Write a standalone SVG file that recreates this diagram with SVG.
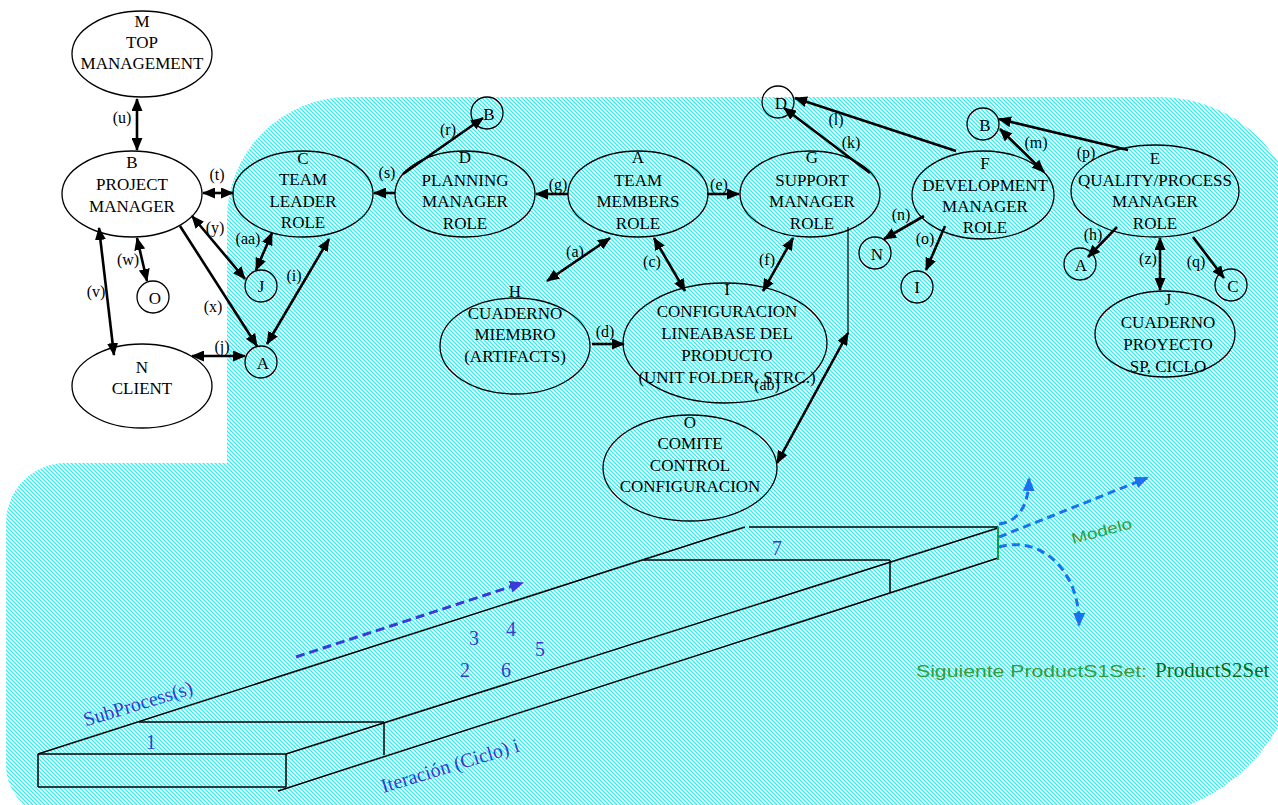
<svg xmlns="http://www.w3.org/2000/svg" width="1278" height="805" viewBox="0 0 1278 805">
  <defs>
    <pattern id="hatch" width="4" height="4" patternUnits="userSpaceOnUse">
      <rect width="4" height="4" fill="#ffffff"/>
      <path d="M0,0 L4,4 M-1,3 L1,5 M3,-1 L5,1" stroke="#2af0f0" stroke-width="1.3"/>
    </pattern>
    <marker id="ah" markerUnits="userSpaceOnUse" markerWidth="13" markerHeight="11" refX="12" refY="5.5" orient="auto-start-reverse">
      <path d="M0,0 L13,5.5 L0,11 z" fill="#000"/>
    </marker>
    <marker id="ahb" markerUnits="userSpaceOnUse" markerWidth="14" markerHeight="12" refX="12" refY="6" orient="auto">
      <path d="M0,0 L14,6 L0,12 z" fill="#3a3ad8"/>
    </marker>
    <marker id="ahl" markerUnits="userSpaceOnUse" markerWidth="14" markerHeight="12" refX="12" refY="6" orient="auto">
      <path d="M0,0 L14,6 L0,12 z" fill="#1a70ee"/>
    </marker>
  </defs>
  <style>
    .n ellipse, .n circle { fill: none; stroke: #000; stroke-width: 1.3; }
    .n text { text-anchor: middle; }
    .c line, .c path { stroke: #000; stroke-width: 2.6; fill: none; }
    .c .thin { stroke-width: 1.2; }
    .lbl text { text-anchor: middle; }
    .slab line { stroke: #000; stroke-width: 1.5; }
    .num { font-family: 'Liberation Serif', serif; font-size: 20px; fill: #3a3acc; text-anchor: middle; }
    .hand { font-family: 'Liberation Sans', sans-serif; fill: #3a9a3a; }
  </style>

  <rect width="1278" height="805" fill="#ffffff"/>
  <!-- hatched working area -->
  <path d="M6,523 A60,60 0 0 1 66,463 L227,463 L227,219 A122,122 0 0 1 349,97 L1160,97 A140,140 0 0 1 1300,237 L1300,642 A175,175 0 0 1 1125,817 L58,817 A52,52 0 0 1 6,765 Z" fill="url(#hatch)"/>

  <!-- iteration slab -->
  <g id="slab" class="slab">
    <line x1="38" y1="754" x2="286" y2="754"/>
    <line x1="38" y1="787" x2="286" y2="787"/>
    <line x1="38" y1="754" x2="38" y2="787"/>
    <line x1="286" y1="754" x2="286" y2="787"/>
    <line x1="139" y1="722" x2="384" y2="722"/>
    <line x1="384" y1="722" x2="384" y2="755"/>
    <line x1="38" y1="754" x2="745" y2="527"/>
    <line x1="286" y1="754" x2="998" y2="528"/>
    <line x1="278" y1="791" x2="998" y2="558"/>
    <line x1="749" y1="527" x2="998" y2="527"/>
    <line x1="643" y1="560" x2="890" y2="560"/>
    <line x1="890" y1="560" x2="890" y2="593"/>
    <line x1="998" y1="527" x2="998" y2="560" style="stroke:#10a040;stroke-width:2"/>
  </g>
  <text class="num" x="151" y="749">1</text>
  <text class="num" x="465" y="677">2</text>
  <text class="num" x="474" y="645">3</text>
  <text class="num" x="511" y="636">4</text>
  <text class="num" x="540" y="656">5</text>
  <text class="num" x="506" y="677">6</text>
  <text class="num" x="777" y="555">7</text>
  <text class="num" transform="translate(140,710) rotate(-17)" x="0" y="0">SubProcess(s)</text>
  <text class="num" transform="translate(452,772) rotate(-17)" x="0" y="0">Iteración (Ciclo) i</text>

  <!-- flow arrows -->
  <g id="flow" fill="none" stroke-width="3">
    <line x1="296" y1="657" x2="522" y2="583" stroke="#3a3ad8" stroke-dasharray="9,5" marker-end="url(#ahb)"/>
    <path d="M999,524 Q1028,520 1029,479" stroke="#1a70ee" stroke-dasharray="8,5" marker-end="url(#ahl)"/>
    <line x1="999" y1="537" x2="1147" y2="478" stroke="#1a70ee" stroke-dasharray="8,5" marker-end="url(#ahl)"/>
    <path d="M999,547 C1040,535 1080,570 1079,625" stroke="#1a70ee" stroke-dasharray="8,5" marker-end="url(#ahl)"/>
  </g>
  <text class="hand" font-size="15" transform="translate(1103,536) rotate(-15)" text-anchor="middle" textLength="62" lengthAdjust="spacingAndGlyphs">Modelo</text>
  <text class="hand" font-size="16" x="916" y="677" textLength="231" lengthAdjust="spacingAndGlyphs">Siguiente ProductS1Set:</text>
  <text x="1155" y="677" font-family="'Liberation Serif', serif" font-size="21" fill="#0a6a1a">ProductS2Set</text>

  <!-- connectors -->
  <g id="connectors" class="c">
    <line x1="137" y1="99" x2="137" y2="150" marker-start="url(#ah)" marker-end="url(#ah)"/>
    <line x1="203" y1="193" x2="233" y2="193" marker-start="url(#ah)" marker-end="url(#ah)"/>
    <line x1="395" y1="193" x2="374" y2="193" marker-end="url(#ah)"/>
    <line x1="403" y1="174" x2="483" y2="118" marker-end="url(#ah)"/>
    <line x1="192" y1="216" x2="245" y2="279" marker-start="url(#ah)" marker-end="url(#ah)"/>
    <line x1="272" y1="233" x2="256" y2="270" marker-start="url(#ah)" marker-end="url(#ah)"/>
    <line x1="137" y1="238" x2="147" y2="281" marker-start="url(#ah)" marker-end="url(#ah)"/>
    <line x1="99" y1="228" x2="114" y2="355" marker-start="url(#ah)" marker-end="url(#ah)"/>
    <line x1="180" y1="226" x2="257" y2="346" marker-end="url(#ah)"/>
    <line x1="267" y1="344" x2="329" y2="239" marker-start="url(#ah)" marker-end="url(#ah)"/>
    <line x1="192" y1="356" x2="245" y2="356" marker-start="url(#ah)" marker-end="url(#ah)"/>
    <line x1="568" y1="194" x2="536" y2="194" marker-end="url(#ah)"/>
    <line x1="707" y1="194" x2="739" y2="194" marker-end="url(#ah)"/>
    <line x1="610" y1="238" x2="547" y2="281" marker-start="url(#ah)" marker-end="url(#ah)"/>
    <line x1="654" y1="238" x2="685" y2="291" marker-start="url(#ah)" marker-end="url(#ah)"/>
    <line x1="793" y1="238" x2="763" y2="291" marker-start="url(#ah)" marker-end="url(#ah)"/>
    <line x1="592" y1="344" x2="624" y2="344" marker-end="url(#ah)"/>
    <line class="thin" x1="848" y1="227" x2="848" y2="334"/>
    <line x1="848" y1="333" x2="777" y2="463" marker-start="url(#ah)" marker-end="url(#ah)"/>
    <line x1="870" y1="173" x2="784" y2="108" marker-end="url(#ah)"/>
    <line x1="956" y1="151" x2="795" y2="98" marker-end="url(#ah)"/>
    <line x1="1000" y1="129" x2="1044" y2="172" marker-start="url(#ah)" marker-end="url(#ah)"/>
    <line x1="1128" y1="150" x2="999" y2="119" marker-end="url(#ah)"/>
    <line x1="924" y1="216" x2="884" y2="239" marker-end="url(#ah)"/>
    <line x1="945" y1="226" x2="926" y2="270" marker-end="url(#ah)"/>
    <line x1="1117" y1="227" x2="1088" y2="257" marker-end="url(#ah)"/>
    <line x1="1160" y1="238" x2="1160" y2="290" marker-start="url(#ah)" marker-end="url(#ah)"/>
    <line x1="1193" y1="237" x2="1224" y2="278" marker-end="url(#ah)"/>
  </g>

  <!-- connector labels -->
  <g id="labels" class="lbl" font-family="'Liberation Serif', serif" font-size="16" fill="#000">
    <text x="122" y="123">(u)</text>
    <text x="217" y="180">(t)</text>
    <text x="387" y="178">(s)</text>
    <text x="448" y="135">(r)</text>
    <text x="215" y="233">(y)</text>
    <text x="248" y="244">(aa)</text>
    <text x="128" y="265">(w)</text>
    <text x="96" y="297">(v)</text>
    <text x="213" y="312">(x)</text>
    <text x="294" y="281">(i)</text>
    <text x="222" y="352">(j)</text>
    <text x="558" y="190">(g)</text>
    <text x="719" y="190">(e)</text>
    <text x="575" y="257">(a)</text>
    <text x="652" y="267">(c)</text>
    <text x="767" y="265">(f)</text>
    <text x="605" y="337">(d)</text>
    <text x="767" y="390">(ab)</text>
    <text x="851" y="148">(k)</text>
    <text x="836" y="125">(l)</text>
    <text x="1036" y="148">(m)</text>
    <text x="1086" y="158">(p)</text>
    <text x="901" y="220">(n)</text>
    <text x="925" y="244">(o)</text>
    <text x="1093" y="240">(h)</text>
    <text x="1148" y="264">(z)</text>
    <text x="1196" y="267">(q)</text>
  </g>

  <!-- role nodes -->
  <g font-family="'Liberation Serif', serif" font-size="17" fill="#000">
  <g id="node-M" class="n">
    <ellipse cx="142" cy="54" rx="70" ry="43"/>
    <text x="142" y="27">M</text><text x="142" y="48">TOP</text><text x="142" y="69">MANAGEMENT</text>
  </g>
  <g id="node-B" class="n">
    <ellipse cx="132" cy="194" rx="70" ry="43"/>
    <text x="132" y="168">B</text><text x="132" y="190">PROJECT</text><text x="132" y="212">MANAGER</text>
  </g>
  <g id="node-C" class="n">
    <ellipse cx="303" cy="194" rx="70" ry="43"/>
    <text x="303" y="164">C</text><text x="303" y="185">TEAM</text><text x="303" y="207">LEADER</text><text x="303" y="228">ROLE</text>
  </g>
  <g id="node-N" class="n">
    <ellipse cx="142" cy="386" rx="70" ry="42"/>
    <text x="142" y="373">N</text><text x="142" y="394">CLIENT</text>
  </g>
  <g id="node-D" class="n">
    <ellipse cx="465" cy="194" rx="70" ry="43"/>
    <text x="465" y="163">D</text><text x="465" y="186">PLANNING</text><text x="465" y="207">MANAGER</text><text x="465" y="229">ROLE</text>
  </g>
  <g id="node-A" class="n">
    <ellipse cx="638" cy="194" rx="70" ry="43"/>
    <text x="638" y="163">A</text><text x="638" y="186">TEAM</text><text x="638" y="207">MEMBERS</text><text x="638" y="229">ROLE</text>
  </g>
  <g id="node-G" class="n">
    <ellipse cx="810" cy="194" rx="70" ry="43"/>
    <text x="812" y="163">G</text><text x="812" y="186">SUPPORT</text><text x="812" y="207">MANAGER</text><text x="812" y="229">ROLE</text>
  </g>
  <g id="node-F" class="n">
    <ellipse cx="983" cy="195" rx="71" ry="44"/>
    <text x="985" y="169">F</text><text x="985" y="191">DEVELOPMENT</text><text x="985" y="212">MANAGER</text><text x="985" y="233">ROLE</text>
  </g>
  <g id="node-E" class="n">
    <ellipse cx="1155" cy="191" rx="84" ry="46"/>
    <text x="1155" y="164">E</text><text x="1155" y="186">QUALITY/PROCESS</text><text x="1155" y="207">MANAGER</text><text x="1155" y="229">ROLE</text>
  </g>
  <g id="node-H" class="n">
    <ellipse cx="515" cy="346" rx="75" ry="48"/>
    <text x="515" y="297">H</text><text x="515" y="319">CUADERNO</text><text x="515" y="340">MIEMBRO</text><text x="515" y="362">(ARTIFACTS)</text>
  </g>
  <g id="node-I" class="n">
    <ellipse cx="725" cy="343" rx="102" ry="60"/>
    <text x="727" y="295">I</text><text x="727" y="317">CONFIGURACION</text><text x="727" y="339">LINEABASE DEL</text><text x="727" y="361">PRODUCTO</text><text x="727" y="383">(UNIT FOLDER, STRC.)</text>
  </g>
  <g id="node-J" class="n">
    <ellipse cx="1165" cy="334" rx="70" ry="43"/>
    <text x="1168" y="305">J</text><text x="1168" y="328">CUADERNO</text><text x="1168" y="350">PROYECTO</text><text x="1168" y="372">SP, CICLO</text>
  </g>
  <g id="node-O" class="n">
    <ellipse cx="690" cy="468" rx="87" ry="53"/>
    <text x="690" y="428">O</text><text x="690" y="449">COMITE</text><text x="690" y="471">CONTROL</text><text x="690" y="492">CONFIGURACION</text>
  </g>

  <!-- reference circles -->
  <g id="ref-O" class="n"><circle cx="153" cy="297" r="16"/><text x="155" y="304">O</text></g>
  <g id="ref-J1" class="n"><circle cx="261" cy="286" r="16"/><text x="261" y="292">J</text></g>
  <g id="ref-A1" class="n"><circle cx="261" cy="362" r="16"/><text x="263" y="369">A</text></g>
  <g id="ref-B1" class="n"><circle cx="487" cy="113" r="16"/><text x="489" y="120">B</text></g>
  <g id="ref-D" class="n"><circle cx="778" cy="102" r="16"/><text x="781" y="109">D</text></g>
  <g id="ref-B2" class="n"><circle cx="983" cy="124" r="16"/><text x="985" y="131">B</text></g>
  <g id="ref-N" class="n"><circle cx="875" cy="253" r="16"/><text x="877" y="260">N</text></g>
  <g id="ref-I" class="n"><circle cx="917" cy="287" r="16"/><text x="917" y="293">I</text></g>
  <g id="ref-A2" class="n"><circle cx="1080" cy="264" r="16"/><text x="1081" y="271">A</text></g>
  <g id="ref-C" class="n"><circle cx="1231" cy="285" r="16"/><text x="1233" y="292">C</text></g>
  </g>
</svg>
